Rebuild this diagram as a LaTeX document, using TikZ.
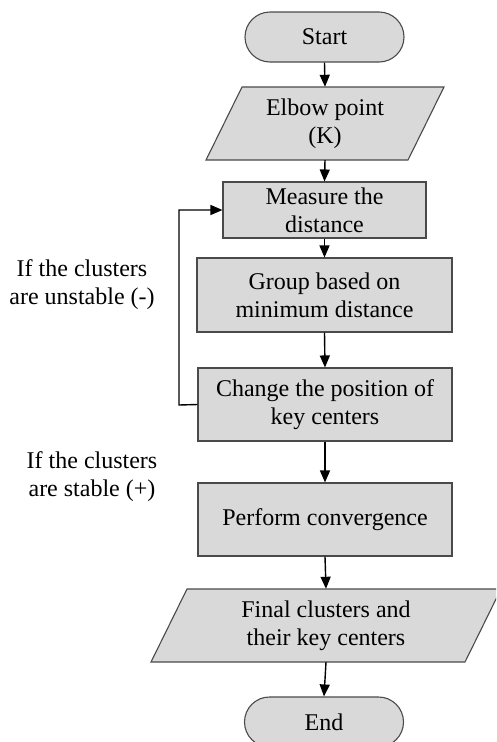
\documentclass[tikz,border=0pt]{standalone}
\usepackage{fontspec}
\setmainfont{Liberation Serif}
\usetikzlibrary{arrows.meta}
\definecolor{boxfill}{HTML}{D9D9D9}
\definecolor{boxline}{HTML}{4A4A4A}
\begin{document}
\begin{tikzpicture}[x=1pt,y=-1pt,
  txt/.style={align=center, inner sep=0pt, font=\fontsize{24}{28}\selectfont},
  box/.style={txt, draw=boxline, fill=boxfill, line width=1.1pt},
  term/.style={box, rounded corners=25pt, minimum width=159pt, minimum height=50pt},
  proc/.style={box, minimum height=73pt, minimum width=254pt},
  para/.style={draw=boxline, fill=boxfill, line width=1.1pt},
  holder/.style={txt, minimum height=73pt, minimum width=200pt},
  arr/.style={line width=1.4pt, -{Triangle[length=12pt,width=10pt]}}
]
\useasboundingbox (0,0) rectangle (496,742);
\clip (0,0) rectangle (496,742);

% terminals
\node[term] (start) at (324.5,37) {Start};
\node[term] (end) at (324,722) {End};

% parallelogram: Elbow point
\path[para] (206,160) -- (242,87) -- (444,87) -- (408,160) -- cycle;
\node[holder] (elbow) at (325,123.5) {Elbow point\\(K)};

% process boxes
\node[proc, minimum width=203pt, minimum height=56pt] (measure) at (324.5,210) {Measure the\\distance};
\node[proc, minimum width=255pt, minimum height=74pt] (group) at (324.5,295) {Group based on\\minimum distance};
\node[proc] (change) at (325,404.5) {Change the position of\\key centers};
\node[proc] (perform) at (325,519.5) {Perform convergence};

% parallelogram: Final clusters
\path[para] (151,662) -- (187,589) -- (501,589) -- (465,662) -- cycle;
\node[holder] (final) at (326,625.5) {Final clusters and\\their key centers};

% side labels
\node[txt] (unstable) at (82,285) {If the clusters\\are unstable (-)};
\node[txt] (stable) at (92,477) {If the clusters\\are stable (+)};

% connectors
\coordinate (loopbot) at (179,405);
\coordinate (looptop) at (179,210);
\draw[arr] (start.south) -- (elbow.north);
\draw[arr] (elbow.south) -- (measure.north);
\draw[arr] (measure.south) -- (group.north);
\draw[arr] (group.south) -- (change.north);
\draw[arr] (change.south) -- (perform.north);
\draw[arr] (perform.south) -- (final.north);
\draw[arr] (final.south) -- (end.north);
\draw[arr] (change.west) -- (loopbot) -- (looptop) -- (measure.west);
\end{tikzpicture}
\end{document}
